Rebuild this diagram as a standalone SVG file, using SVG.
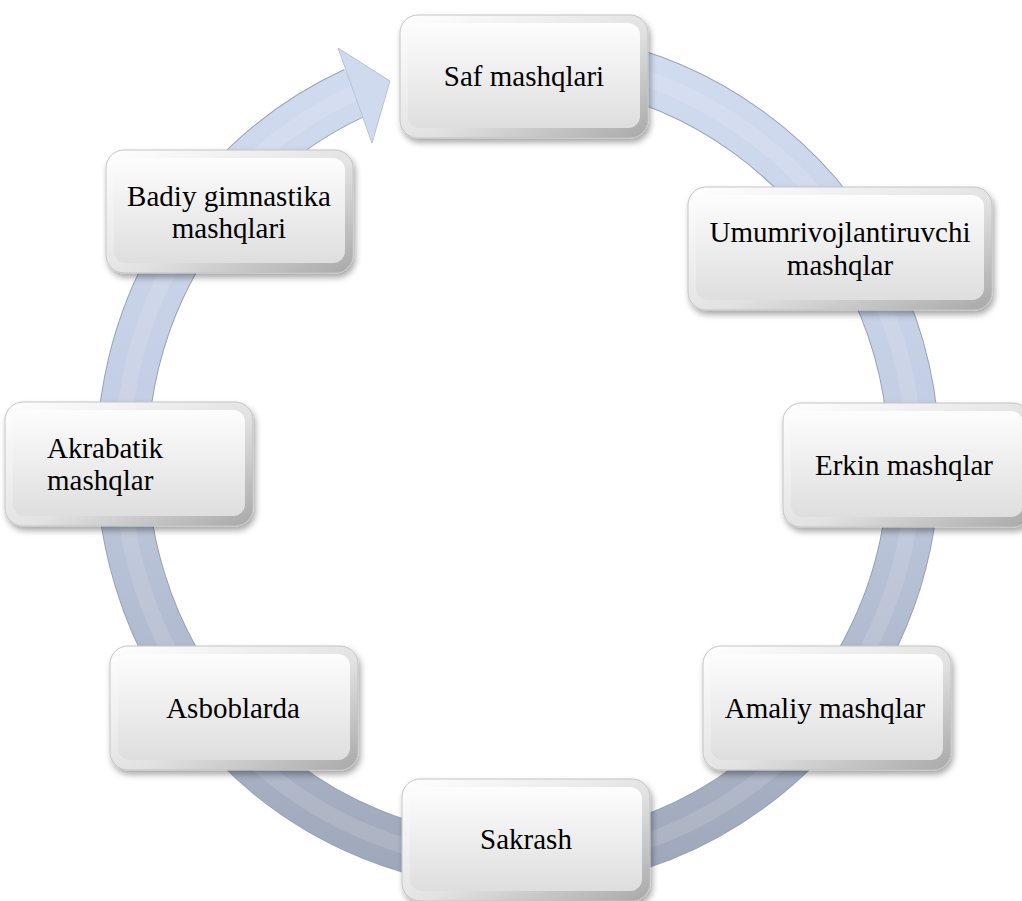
<svg xmlns="http://www.w3.org/2000/svg" width="1022" height="901" viewBox="0 0 1022 901">
<style>
.lbl{font-family:"Liberation Serif","Times New Roman",serif;font-size:29px;fill:#000;}
.c{text-anchor:middle;}
.outer{fill:url(#rim);stroke:#c4c4c4;stroke-width:1;filter:url(#sh);}
.inner{fill:url(#face);}
</style>
<defs>
<linearGradient id="ringG" gradientUnits="userSpaceOnUse" x1="0" y1="50" x2="0" y2="870">
<stop offset="0" stop-color="#d2dcf0"/>
<stop offset="0.45" stop-color="#c3cde3"/>
<stop offset="1" stop-color="#9fa8ba"/>
</linearGradient>
<linearGradient id="rim" x1="0" y1="0" x2="1" y2="1">
<stop offset="0" stop-color="#ffffff"/>
<stop offset="0.55" stop-color="#e2e2e2"/>
<stop offset="1" stop-color="#a8a8a8"/>
</linearGradient>
<linearGradient id="face" x1="0" y1="0" x2="0" y2="1">
<stop offset="0" stop-color="#fdfdfd"/>
<stop offset="1" stop-color="#dedede"/>
</linearGradient>
<filter id="sh" x="-10%" y="-10%" width="125%" height="130%">
<feDropShadow dx="2" dy="4" stdDeviation="3" flood-color="#000" flood-opacity="0.35"/>
</filter>
</defs>

<g id="connectors">
<path d="M586.8 63.1 A396 403 0 1 1 355 92.7" fill="none" stroke="#97a2b8" stroke-width="52"/>
<path d="M586.8 63.1 A396 403 0 1 1 355 92.7" fill="none" stroke="url(#ringG)" stroke-width="50"/>
<path d="M586.8 63.1 A396 403 0 1 1 355 92.7" fill="none" stroke="#ffffff" stroke-opacity="0.12" stroke-width="16"/>
<polygon points="338,48 390,81 372,143" fill="#d0daee" stroke="#b8c3d9" stroke-width="1"/>
</g>

<g id="n1">
<rect class="outer" x="400" y="15" width="248" height="123" rx="18"/>
<rect class="inner" x="408" y="23" width="232" height="105" rx="12"/>
<text class="lbl c" x="524" y="86">Saf mashqlari</text>
</g>

<g id="n2">
<rect class="outer" x="688" y="187" width="304" height="123" rx="18"/>
<rect class="inner" x="696" y="195" width="288" height="105" rx="12"/>
<text class="lbl c" x="840" y="242">Umumrivojlantiruvchi</text>
<text class="lbl c" x="840" y="275">mashqlar</text>
</g>

<g id="n3">
<rect class="outer" x="783" y="403" width="248" height="124" rx="18"/>
<rect class="inner" x="791" y="411" width="232" height="106" rx="12"/>
<text class="lbl c" x="904" y="475">Erkin mashqlar</text>
</g>

<g id="n4">
<rect class="outer" x="703" y="646" width="248" height="124" rx="18"/>
<rect class="inner" x="711" y="654" width="232" height="106" rx="12"/>
<text class="lbl c" x="825" y="718">Amaliy mashqlar</text>
</g>

<g id="n5">
<rect class="outer" x="402" y="779" width="248" height="122" rx="18"/>
<rect class="inner" x="410" y="787" width="232" height="104" rx="12"/>
<text class="lbl c" x="526" y="849">Sakrash</text>
</g>

<g id="n6">
<rect class="outer" x="110" y="646" width="248" height="124" rx="18"/>
<rect class="inner" x="118" y="654" width="232" height="106" rx="12"/>
<text class="lbl c" x="233" y="718">Asboblarda</text>
</g>

<g id="n7">
<rect class="outer" x="5" y="402" width="248" height="124" rx="18"/>
<rect class="inner" x="13" y="410" width="232" height="106" rx="12"/>
<text class="lbl" x="47" y="458">Akrabatik</text>
<text class="lbl" x="47" y="490">mashqlar</text>
</g>

<g id="n8">
<rect class="outer" x="106" y="150" width="247" height="123" rx="18"/>
<rect class="inner" x="114" y="158" width="231" height="105" rx="12"/>
<text class="lbl c" x="229" y="206">Badiy gimnastika</text>
<text class="lbl c" x="229" y="238">mashqlari</text>
</g>
</svg>
